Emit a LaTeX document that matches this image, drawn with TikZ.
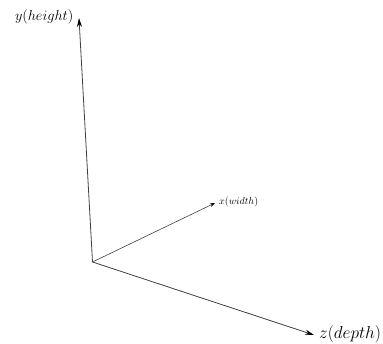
\documentclass[tikz,border=0pt]{standalone}
\usetikzlibrary{arrows.meta}
\begin{document}
\begin{tikzpicture}[x=1pt,y=1pt,
  axis/.style={draw=black!75, line width=0.8pt, -{Stealth[length=9pt,width=5pt,black]}},
  smallaxis/.style={draw=black!75, line width=0.6pt, -{Stealth[length=5pt,width=3.5pt,black]}},
  biglabel/.style={inner sep=1pt, font=\fontsize{16.5}{20}\selectfont},
  ylabel/.style={inner sep=1pt, font=\fontsize{15.5}{19}\selectfont},
  smalllabel/.style={inner sep=1pt, font=\fontsize{10}{12}\selectfont}]
\useasboundingbox (0,0) rectangle (383,343);
\coordinate (O) at (92.5,81);
\coordinate (Y) at (79,325);
\coordinate (X) at (215,140);
\coordinate (Z) at (314,8);
\draw[axis] (O) -- (Y);
\draw[smallaxis] (O) -- (X);
\draw[axis] (O) -- (Z);
\node[ylabel, anchor=east] (ly) at (74.5,326) {$y(height)$};
\node[smalllabel, anchor=west] (lx) at (218,141) {$x(width)$};
\node[biglabel, anchor=west] (lz) at (318,9) {$z(depth)$};
\end{tikzpicture}
\end{document}
